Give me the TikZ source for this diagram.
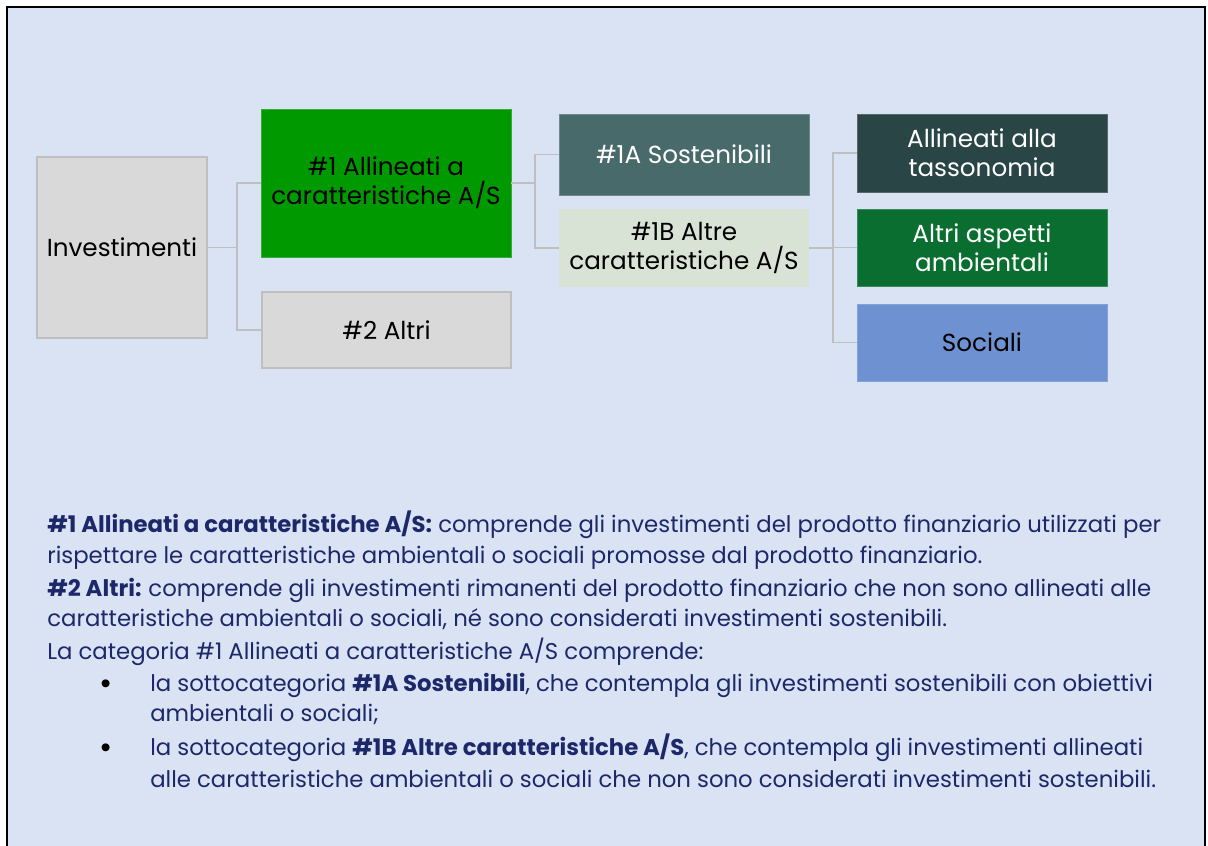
\documentclass[tikz,border=0pt]{standalone}
\usepackage{fontspec}
\setmainfont{Poppins}
\definecolor{bg}{RGB}{218,227,243}
\definecolor{boxgrey}{RGB}{217,217,217}
\definecolor{edgegrey}{RGB}{191,191,191}
\definecolor{brightgreen}{RGB}{0,153,0}
\definecolor{teal1a}{RGB}{72,106,107}
\definecolor{pale1b}{RGB}{217,227,213}
\definecolor{darkteal}{RGB}{41,69,69}
\definecolor{forest}{RGB}{10,110,48}
\definecolor{socblue}{RGB}{110,145,210}
\definecolor{navy}{RGB}{28,40,105}
\tikzset{
  box/.style={rectangle, align=center, inner sep=2pt, font=\fontsize{18.5}{22}\selectfont,
    minimum width=#1*0.75pt},
  conn/.style={draw=edgegrey, line width=1.2pt},
  para/.style={anchor=base west, inner sep=0pt, text=navy, font=\fontsize{17.1}{20}\selectfont},
  bul/.style={anchor=base west, inner sep=0pt, text=black, font=\fontsize{24}{24}\selectfont},
}
\begin{document}
\begin{tikzpicture}[x=0.75pt,y=-0.75pt]
\useasboundingbox (0,0) rectangle (1208,846);
\fill[white] (0,0) rectangle (1208,846);
\draw[fill=bg, line width=0.8pt] (7,7) rectangle (1205,870);

\node[box=170, minimum height=181*0.75pt, fill=boxgrey, draw=edgegrey, line width=1.5pt] (inv) at (122,247.5) {Investimenti};
\node[box=250, minimum height=148*0.75pt, fill=brightgreen, draw=brightgreen!80!white, line width=0.6pt] (a1) at (386,183) {\#1 Allineati a\\caratteristiche A/S};
\node[box=249, minimum height=76*0.75pt, fill=boxgrey, draw=edgegrey, line width=1.5pt] (a2) at (386.5,330) {\#2 Altri};
\node[box=250, minimum height=81*0.75pt, fill=teal1a, draw=teal1a!80!white, line width=0.6pt, text=white] (s1a) at (684,154.5) {\#1A Sostenibili};
\node[box=250, minimum height=78*0.75pt, fill=pale1b] (s1b) at (684,248) {\#1B Altre\\caratteristiche A/S};
\node[box=250, minimum height=78*0.75pt, fill=darkteal, draw=darkteal!80!white, line width=0.6pt, text=white] (t1) at (982,153) {Allineati alla\\tassonomia};
\node[box=250, minimum height=77*0.75pt, fill=forest, draw=forest!80!white, line width=0.6pt, text=white] (t2) at (982,247.5) {Altri aspetti\\ambientali};
\node[box=250, minimum height=77*0.75pt, fill=socblue, draw=socblue!85!white, line width=0.6pt] (t3) at (982,342.5) {Sociali};

\coordinate (j1) at (237,247.5);
\coordinate (j2) at (535,183);
\coordinate (j3) at (833,248);
\draw[conn] (inv.east) -- (j1);
\draw[conn] (j1) |- (a1.west);
\draw[conn] (j1) |- (a2.west);
\draw[conn] (a1.east) -- (j2);
\draw[conn] (j2) |- (s1a.west);
\draw[conn] (j2) |- (s1b.west);
\draw[conn] (s1b.east) -- (j3);
\draw[conn] (j3) |- (t1.west);
\draw[conn] (j3) |- (t2.west);
\draw[conn] (j3) |- (t3.west);

\node[para] (l1) at (47,532) {\textbf{\#1 Allineati a caratteristiche A/S:} comprende gli investimenti del prodotto finanziario utilizzati per};
\node[para] (l2) at (47,563) {rispettare le caratteristiche ambientali o sociali promosse dal prodotto finanziario.};
\node[para] (l3) at (47,596) {\textbf{\#2 Altri:}\hspace{-0.05em} comprende gli investimenti rimanenti del prodotto finanziario che non sono allineati alle};
\node[para] (l4) at (47,626) {caratteristiche ambientali o sociali, né sono considerati investimenti sostenibili.};
\node[para] (l5) at (47,659) {La categoria \#1 Allineati a caratteristiche A/S comprende:};
\node[bul] (b1) at (99,694) {•};
\node[para] (l6) at (150,691) {la sottocategoria \textbf{\#1A Sostenibili}, che contempla gli investimenti sostenibili con obiettivi};
\node[para] (l7) at (150,721) {ambientali o sociali;};
\node[bul] (b2) at (99,758) {•};
\node[para] (l8) at (150,755) {la sottocategoria \textbf{\#1B Altre caratteristiche A/S}, che contempla gli investimenti allineati};
\node[para] (l9) at (150,787) {alle caratteristiche ambientali o sociali che non sono considerati investimenti sostenibili.};
\end{tikzpicture}
\end{document}
